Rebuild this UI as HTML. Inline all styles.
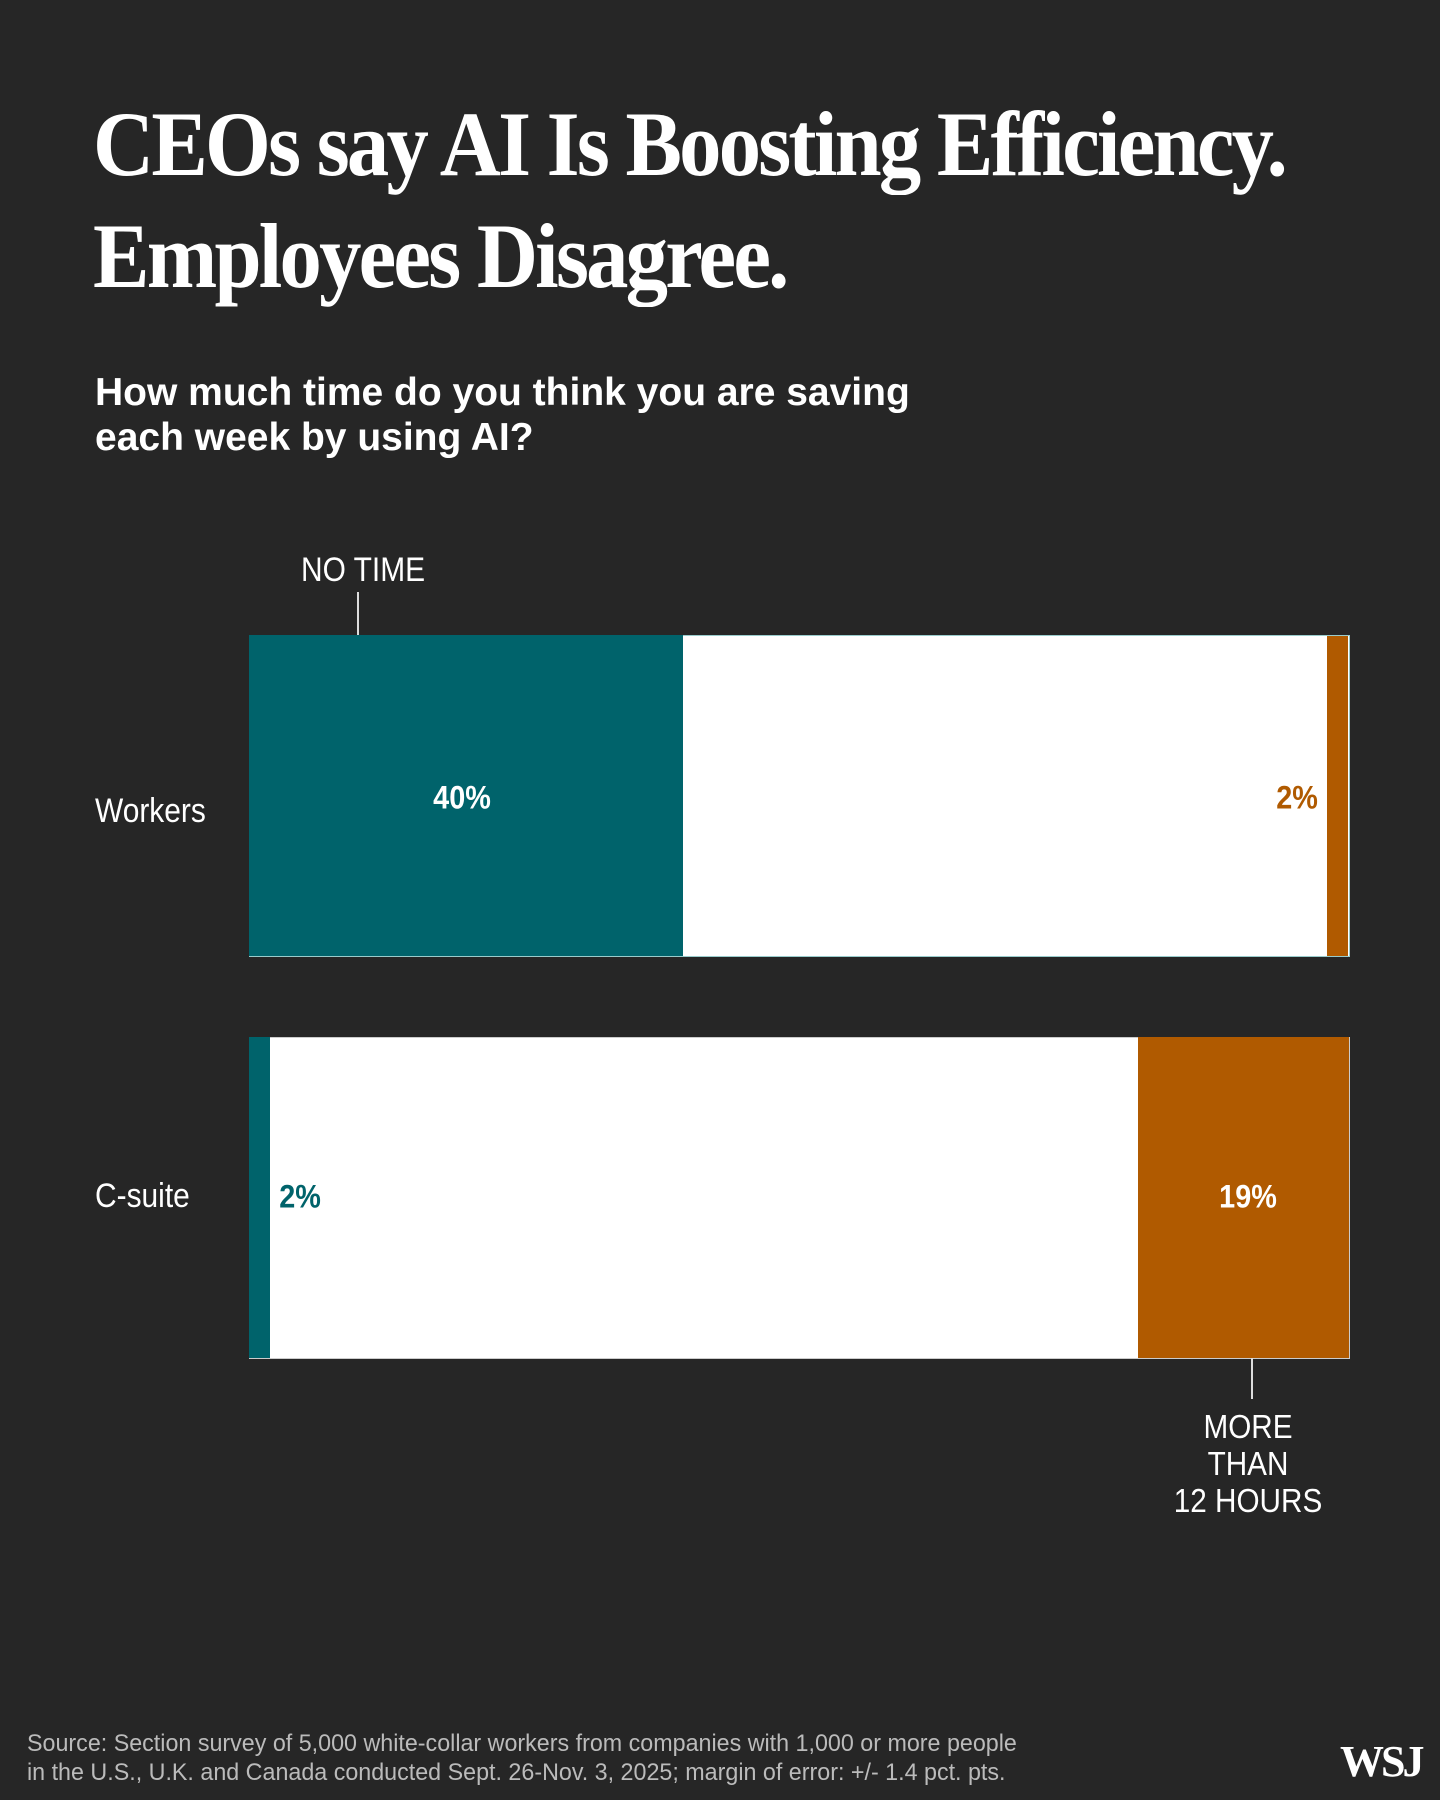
<!DOCTYPE html>
<html><head><meta charset="utf-8"><style>
body{margin:0;width:1440px;height:1800px;background:#262626;position:relative;overflow:hidden;font-family:"Liberation Sans",sans-serif;color:#fff}
.a{position:absolute;white-space:nowrap}
.t{font-family:"Liberation Serif",serif;font-weight:bold;font-size:92px;letter-spacing:-3px;left:93px;line-height:1}
.s{font-size:39px;font-weight:bold;left:95px;line-height:45px}
.l{font-size:34px;transform:scaleX(.88);transform-origin:left}
.p{font-size:32px;font-weight:bold;transform:translate(-50%,-50%) scaleX(.9)}
.c{font-size:33px;text-align:center;line-height:37px;transform:translateX(-50%) scaleX(.9)}
</style></head><body>
<div class="a t" style="top:98px;transform:scaleX(.92);transform-origin:left">CEOs say AI Is Boosting Efficiency.</div>
<div class="a t" style="top:210px;transform:scaleX(.92);transform-origin:left">Employees Disagree.</div>
<div class="a s" style="top:370px">How much time do you think you are saving<br>each week by using AI?</div>
<div class="a l" style="left:301px;top:551px">NO TIME</div>
<div class="a" style="left:357px;top:592px;width:2px;height:44px;background:#ddd"></div>
<div class="a" style="left:249px;top:635px;width:1099px;height:320px;background:#fff;border:1px solid #9cc"></div>
<div class="a" style="left:249px;top:635px;width:434px;height:321px;background:#00636b"></div>
<div class="a" style="left:1327px;top:636px;width:21px;height:320px;background:#b05a00"></div>
<div class="a" style="left:249px;top:1037px;width:1099px;height:320px;background:#fff;border:1px solid #ccc"></div>
<div class="a" style="left:249px;top:1037px;width:21px;height:321px;background:#00636b"></div>
<div class="a" style="left:1138px;top:1037px;width:211px;height:321px;background:#b05a00"></div>
<div class="a l" style="left:95px;top:792px">Workers</div>
<div class="a l" style="left:95px;top:1177px">C-suite</div>
<div class="a p" style="left:462px;top:798px">40%</div>
<div class="a p" style="left:1297px;top:798px;color:#b05a00">2%</div>
<div class="a p" style="left:300px;top:1197px;color:#00636b">2%</div>
<div class="a p" style="left:1248px;top:1197px">19%</div>
<div class="a" style="left:1251px;top:1358px;width:2px;height:41px;background:#ddd"></div>
<div class="a c" style="left:1248px;top:1408px">MORE<br>THAN<br>12 HOURS</div>
<div class="a" style="left:27px;top:1729px;font-size:24px;line-height:29px;color:#bbb;transform:scaleX(.97);transform-origin:left">Source: Section survey of 5,000 white-collar workers from companies with 1,000 or more people<br>in the U.S., U.K. and Canada conducted Sept. 26-Nov. 3, 2025; margin of error: +/- 1.4 pct. pts.</div>
<div class="a" style="left:1340px;top:1736px;font-family:'Liberation Serif',serif;font-weight:bold;font-size:44px;letter-spacing:-3px">WSJ</div>
</body></html>
